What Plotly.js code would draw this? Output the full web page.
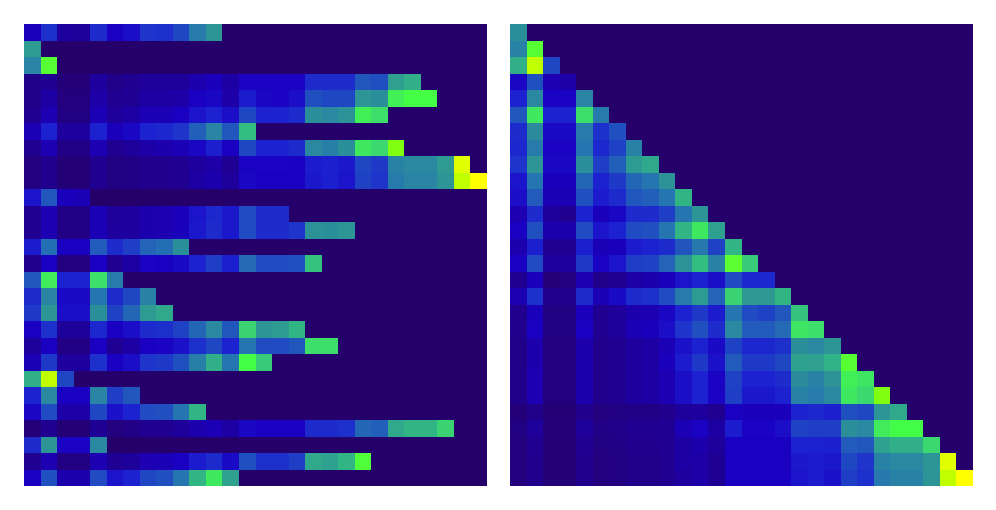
<!DOCTYPE html>
<html>
<head>
<meta charset="utf-8">
<script src="https://cdn.plot.ly/plotly-3.0.1.min.js"></script>
<style>body { margin: 0; background: #fff; }</style>
</head>
<body>
<div id="plot" style="width:996px;height:510px"></div>
<script>
// rows, trailing empty cells left out (padded to 28 below)
var leftRows = [
  [1.9,3.3,1.3,1.2,3.2,2,2.4,3.4,3.3,3.8,5.2,6],
  [6.2],
  [5.5,9.3],
  [.8,1,.4,.4,1.3,.8,1,1.2,1.2,1.2,1.6,1.9,1.4,2.1,2.1,2.1,2.1,3.2,3.2,3.2,4.2,4,6.3,6.8],
  [.8,1.4,.5,.5,1.5,1,1.1,1.4,1.4,1.5,2,2.2,1.5,2.8,2.2,2.1,2.4,4,3.8,3.8,6,5.8,8.5,9,9],
  [1,1.7,.6,.6,1.8,1.2,1.4,1.8,1.8,2,2.6,3,2.4,3.8,3,3,3.2,5.8,5.6,5.9,8.5,8],
  [1.8,3,1.3,1.3,3,1.9,2.2,3,3.1,3.4,4.4,5.5,4.2,7.2],
  [1,1.7,.7,.7,1.7,1,1.2,1.5,1.6,1.8,2.2,2.9,2,3.8,3,3,3.2,5.6,5.3,5.8,8.3,7.8,10],
  [.5,.9,.3,.3,1,.6,.7,.9,.9,1,1.3,1.5,1.1,2.1,2.1,2.1,2,2.8,2.9,2.7,3.8,3.5,5.4,5.6,5.6,6.2,11.5],
  [.5,.9,.3,.3,1,.6,.7,.9,.9,1,1.4,1.6,1.2,2.2,2,2,2,2.7,2.9,2.6,3.7,3.4,5.2,5.5,5.5,6,11,12],
  [2.6,4.2,1.9,1.8],
  [1,1.7,.7,.7,1.8,1.2,1.3,1.6,1.7,1.9,2.6,3.1,2.7,3.9,3.2,3.2],
  [1,1.7,.7,.7,1.8,1.3,1.3,1.6,1.7,1.9,2.7,3.2,2.7,3.9,3.2,3.2,3.4,5.9,5.8,6],
  [2.8,4.8,2,2,4.3,3.2,3.6,4.5,4.8,5.8],
  [.9,2,.5,.5,2,1,1.4,2.1,2,2.3,3,3.6,2.9,4.7,3.9,3.9,4,7.3],
  [4.2,8.4,3,3,8,5.2],
  [3.2,5.5,2.3,2.3,5,3.2,3.8,5.4],
  [3.5,6,2.4,2.4,5.8,3.7,4.6,6.2,6.6],
  [2,3.3,1.2,1.2,3.1,2,2.4,3.2,3.3,3.7,4.6,5.6,4.2,7.7,6,6.2,7],
  [1.2,2,.7,.7,2,1.1,1.4,2,2.1,2.5,3.3,3.8,3,5,3.9,3.9,4.2,8,8],
  [1.8,3.5,1.3,1.3,3.3,2,2.4,3.4,3.5,4,5.3,6.8,5,9,7.5],
  [6.8,11,3.8],
  [3,5.6,2,2,5.5,3.6,4.2],
  [2.2,3.9,1.5,1.5,3.8,2.5,3,3.9,4,5,7],
  [.4,1,.3,.3,1.1,.5,.7,1,1,1.2,1.6,1.8,1.4,2.2,2,2,2,3.2,3.2,3.3,4.6,4.4,6.6,7,7,7.7],
  [3.2,6,2.1,2.1,5.6],
  [1,1.7,.6,.6,1.7,1.1,1.2,1.7,1.8,2,2.8,3.2,2.3,4,3.3,3.3,3.6,6.6,6.4,7,9.2],
  [2,4,1.6,1.6,3.9,2.6,3,3.8,4,5,7,8.3,6.4]
];

var rightRows = [
  [5.8],
  [5.4,9.3],
  [6.8,11,3.8],
  [2.2,4,1.7,1.5],
  [3,5.6,2.1,2.1,5.5],
  [4.2,8.3,3,3,8,5.2],
  [3.2,5.7,2.3,2.3,5.2,3.3,4],
  [3.1,5.2,2.1,2.1,5,3.1,3.7,5.4],
  [3.4,6,2.2,2.2,5.8,3.6,4.4,6.2,6.6],
  [2.6,5,1.9,1.9,4.6,3,3.5,4.6,5,5.9],
  [2.4,4.3,1.8,1.8,4,2.8,3.2,4.2,4.4,5,7],
  [1.7,3.2,1.2,1,3,1.9,2.2,3.2,3.2,3.6,5,6],
  [2,4,1.6,1.6,3.9,2.6,3,3.9,4,5,7,8.3,6.3],
  [1.6,2.9,1,1,2.9,1.8,1.9,2.8,3,3.2,4.1,5.1,3.7,7],
  [2,3.9,1.3,1.3,3.5,2.1,2.6,3.6,3.7,4.5,5.9,7.2,5.4,9.4,7.5],
  [1,1.9,.4,.5,1.7,.8,1,1.5,1.6,1.9,2.6,3,2.4,3.9,3.1,3.1],
  [1.7,3.3,.9,.9,3.2,1.8,2.3,3.2,3.3,3.9,5.2,6.2,4.5,7.7,6.1,6.1,7],
  [.9,1.9,.6,.6,1.9,1,1.2,1.6,1.7,2.2,3,3.5,2.8,5,3.9,3.7,4.2,7.3],
  [.9,2,.6,.6,2,1,1.2,1.8,1.9,2.4,3.4,4,3.2,5.6,4.3,4.3,4.7,8.2,8],
  [.8,1.6,.5,.5,1.6,.9,1,1.3,1.4,1.8,2.5,3,2.3,3.7,3.1,3.1,3.3,5.8,5.6,6],
  [.8,1.6,.5,.5,1.6,.9,1,1.3,1.4,1.9,2.8,3.5,2.5,4.3,3.5,3.5,3.8,6.4,6.3,6.9,9.3],
  [.8,1.7,.5,.5,1.6,.9,1,1.3,1.4,1.7,2.4,3,2.1,3.7,3,3,3.2,5.7,5.4,5.9,8.5,8.2],
  [.8,1.7,.5,.5,1.6,.9,1,1.3,1.4,1.7,2.4,3,2.1,3.6,2.7,2.7,3,5.4,5.2,5.6,8.3,7.8,10],
  [.4,.8,.3,.3,.9,.5,.6,.7,.7,.9,1.2,1.3,1,2,1.9,1.9,1.9,3,3.1,2.9,4,3.8,6,6.6],
  [.6,1.2,.4,.4,1.2,.7,.8,1,1,1.1,1.8,2.1,1.4,2.8,2.1,2.1,2.4,3.7,3.6,3.6,5.8,5.6,8.4,8.9,8.9],
  [.5,1,.3,.3,1,.6,.7,.9,.9,1,1.4,1.6,1.2,2,2,2,2,3,3,2.9,4.3,4.2,6.4,6.8,6.8,7.8],
  [.5,.9,.3,.3,.9,.5,.6,.8,.8,1,1.4,1.5,1.1,2,2,2,2,2.7,2.8,2.7,3.8,3.4,5.4,5.6,5.6,6,11.5],
  [.5,.9,.3,.3,.9,.5,.6,.8,.8,1,1.3,1.5,1.1,2,2,2,2,2.6,2.8,2.5,3.6,3.3,5.1,5.4,5.4,6,11,12]
];

var colorStops = ['#25006b','#1f0090','#1a00c0','#1c22d0','#2050c0','#2575b0','#2d9595','#32b585','#3ddf6a','#44ff44','#80ff10','#c0ff00','#ffff00'];

function pad(rows) {
  return rows.map(function (r) {
    var out = r.slice();
    while (out.length < 28) out.push(0);
    return out;
  });
}

var colorscale = colorStops.map(function (c, i) { return [i / 12, c]; });

function trace(rows, xa, ya) {
  return {
    type: 'heatmap',
    z: pad(rows),
    xaxis: xa,
    yaxis: ya,
    zmin: 0,
    zmax: 12,
    colorscale: colorscale,
    showscale: false,
    hoverinfo: 'skip'
  };
}

function hidden(extra) {
  var a = {visible: false, showgrid: false, zeroline: false, fixedrange: true};
  for (var k in extra) a[k] = extra[k];
  return a;
}

// domains count from the bottom of the page
var yDomain = [1 - 486 / 510, 1 - 24 / 510];

var layout = {
  width: 996,
  height: 510,
  margin: {l: 0, r: 0, t: 0, b: 0},
  paper_bgcolor: '#fff',
  plot_bgcolor: '#fff',
  xaxis: hidden({domain: [24 / 996, 487 / 996], range: [-0.5, 27.5]}),
  yaxis: hidden({domain: yDomain, range: [27.5, -0.5]}),
  xaxis2: hidden({domain: [510 / 996, 973 / 996], range: [-0.5, 27.5]}),
  yaxis2: hidden({domain: yDomain, range: [27.5, -0.5]})
};

Plotly.newPlot('plot', [trace(leftRows, 'x', 'y'), trace(rightRows, 'x2', 'y2')], layout, {displayModeBar: false, staticPlot: true});
</script>
</body>
</html>
